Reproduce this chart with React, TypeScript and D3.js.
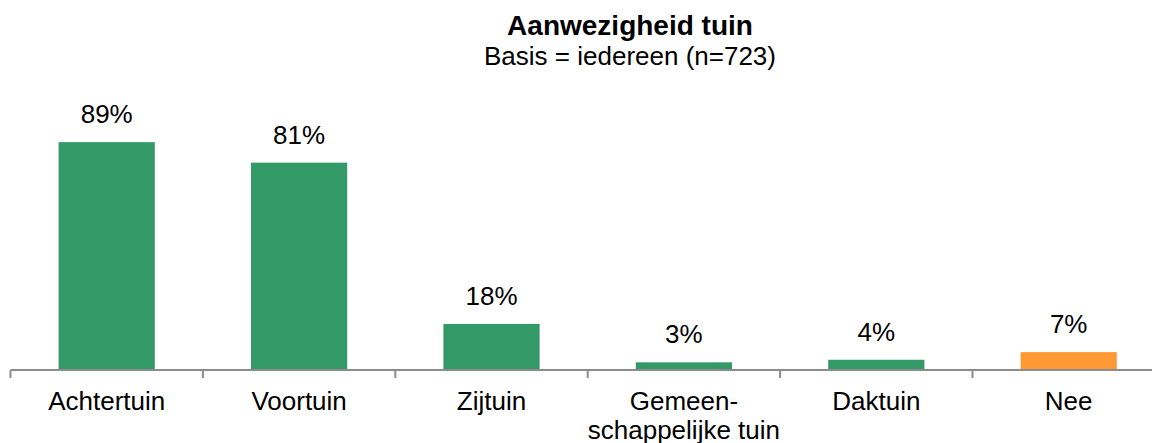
import React, { useEffect, useRef } from 'react';
import * as d3 from 'd3';

const categories = ['Achtertuin', 'Voortuin', 'Zijtuin', 'Gemeen-\nschappelijke tuin', 'Daktuin', 'Nee'];
const values = [89, 81, 18, 3, 4, 7];
const barColors = ['#339966', '#339966', '#339966', '#339966', '#339966', '#FF9933'];
const title = 'Aanwezigheid tuin';
const subtitle = 'Basis = iedereen (n=723)';

const App: React.FC = () => {
  const svgRef = useRef<SVGSVGElement>(null);

  useEffect(() => {
    if (!svgRef.current) return;
    const width = 1152;
    const height = 443;
    const axisY = 370;
    const font = 'Arial, "Liberation Sans", sans-serif';

    const svg = d3.select(svgRef.current);
    svg.selectAll('*').remove();

    const step = 192.4;
    const x0 = 10.5;
    const x = d3.scaleBand<string>()
      .domain(categories)
      .range([x0, x0 + step * categories.length])
      .paddingInner(0.5)
      .paddingOuter(0.25);

    const y = d3.scaleLinear().domain([0, 100]).range([axisY, axisY - 256]);

    // Title
    svg.append('text')
      .attr('x', 630).attr('y', 35)
      .attr('text-anchor', 'middle')
      .attr('font-family', font).attr('font-weight', 'bold').attr('font-size', 28)
      .attr('fill', '#000')
      .text(title);
    svg.append('text')
      .attr('x', 630).attr('y', 65)
      .attr('text-anchor', 'middle')
      .attr('font-family', font).attr('font-size', 26)
      .attr('fill', '#000')
      .text(subtitle);

    // Bars
    svg.selectAll('.bar')
      .data(values)
      .enter()
      .append('rect')
      .attr('x', (d, i) => x(categories[i]) || 0)
      .attr('y', d => y(d))
      .attr('width', x.bandwidth())
      .attr('height', d => axisY - y(d))
      .attr('fill', (d, i) => barColors[i]);

    // Value labels
    svg.selectAll('.val')
      .data(values)
      .enter()
      .append('text')
      .attr('x', (d, i) => (x(categories[i]) || 0) + x.bandwidth() / 2)
      .attr('y', d => y(d) - 19)
      .attr('text-anchor', 'middle')
      .attr('font-family', font).attr('font-size', 26)
      .attr('fill', '#000')
      .text(d => `${d}%`);

    // Axis line + ticks
    svg.append('line')
      .attr('x1', x0).attr('x2', width)
      .attr('y1', axisY).attr('y2', axisY)
      .attr('stroke', '#8c8c8c').attr('stroke-width', 2);
    d3.range(categories.length + 1).forEach(i => {
      svg.append('line')
        .attr('x1', x0 + i * step).attr('x2', x0 + i * step)
        .attr('y1', axisY).attr('y2', axisY + 8)
        .attr('stroke', '#8c8c8c').attr('stroke-width', 2);
    });

    // Category labels
    categories.forEach(c => {
      const t = svg.append('text')
        .attr('text-anchor', 'middle')
        .attr('font-family', font).attr('font-size', 26)
        .attr('fill', '#000');
      const cx = (x(c) || 0) + x.bandwidth() / 2;
      c.split('\n').forEach((line, j) => {
        t.append('tspan').attr('x', cx).attr('y', 410 + j * 29).text(line);
      });
    });

    svg.attr('width', width).attr('height', height);
  }, []);

  return (
    <svg ref={svgRef} width={1152} height={443}
      style={{ position: 'absolute', left: 0, top: 0, background: '#fff', display: 'block' }} />
  );
};

export default App;
